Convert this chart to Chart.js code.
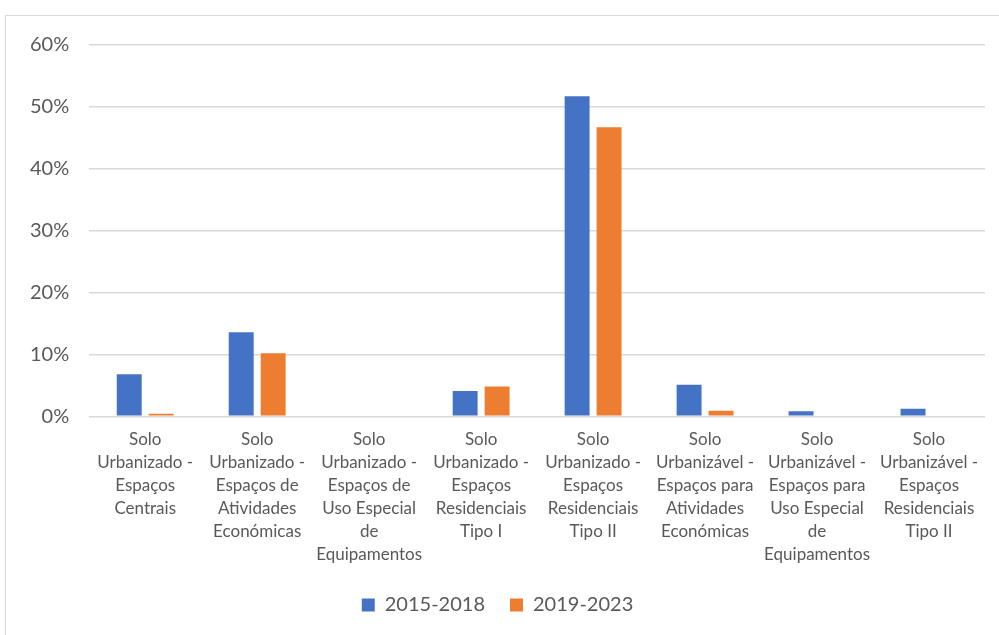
<!DOCTYPE html>
<html lang="pt">
<head>
  <meta charset="UTF-8" />
  <title>Solo - 2015-2018 vs 2019-2023</title>
  <script src="https://cdn.jsdelivr.net/npm/chart.js"></script>
  <style>
    body {
      margin: 0;
      background: #ffffff;
      width: 999px;
      height: 635px;
      overflow: hidden;
      position: relative;
    }
    .frame {
      position: absolute;
      left: 5px;
      top: 15px;
      width: 1100px;
      height: 700px;
      border: 1px solid #d9d9d9;
    }
    .chart-box {
      position: absolute;
      left: 0;
      top: 0;
      width: 999px;
      height: 635px;
    }
  </style>
</head>
<body>
  <div class="frame"></div>
  <div class="chart-box">
    <canvas id="barChart" width="999" height="635"></canvas>
  </div>

  <script>
    const categories = [
      ["Solo", "Urbanizado -", "Espaços", "Centrais"],
      ["Solo", "Urbanizado -", "Espaços de", "Atividades", "Económicas"],
      ["Solo", "Urbanizado -", "Espaços de", "Uso Especial", "de", "Equipamentos"],
      ["Solo", "Urbanizado -", "Espaços", "Residenciais", "Tipo I"],
      ["Solo", "Urbanizado -", "Espaços", "Residenciais", "Tipo II"],
      ["Solo", "Urbanizável -", "Espaços para", "Atividades", "Económicas"],
      ["Solo", "Urbanizável -", "Espaços para", "Uso Especial", "de", "Equipamentos"],
      ["Solo", "Urbanizável -", "Espaços", "Residenciais", "Tipo II"]
    ];
    const seriesNames = ["2015-2018", "2019-2023"];
    const values2015 = [6.8, 13.6, 0, 4.1, 51.7, 5.1, 0.8, 1.2];
    const values2019 = [0.4, 10.2, 0, 4.8, 46.7, 0.9, 0, 0];
    const yTicks = [0, 10, 20, 30, 40, 50, 60];

    const textColor = '#595959';
    const gridColor = '#d9d9d9';
    const fontFamily = "Lato, 'Open Sans', sans-serif";

    new Chart(document.getElementById('barChart'), {
      type: 'bar',
      data: {
        labels: categories,
        datasets: [
          {
            label: seriesNames[0],
            data: values2015,
            backgroundColor: '#4472c4',
            categoryPercentage: 0.571,
            barPercentage: 0.78
          },
          {
            label: seriesNames[1],
            data: values2019,
            backgroundColor: '#ed7d31',
            categoryPercentage: 0.571,
            barPercentage: 0.78
          }
        ]
      },
      options: {
        responsive: false,
        animation: false,
        layout: { padding: { top: 45, right: 14, left: 10, bottom: 10 } },
        plugins: {
          tooltip: { enabled: false },
          legend: {
            position: 'bottom',
            labels: {
              color: textColor,
              font: { family: fontFamily, size: 20 },
              boxWidth: 13,
              boxHeight: 13,
              padding: 25
            }
          }
        },
        scales: {
          x: {
            grid: { display: false },
            border: { display: false },
            ticks: {
              color: textColor,
              font: { family: fontFamily, size: 17, lineHeight: 1.35 },
              maxRotation: 0,
              autoSkip: false,
              padding: 4
            }
          },
          y: {
            min: 0,
            max: 60,
            afterBuildTicks: axis => {
              axis.ticks = yTicks.map(v => ({ value: v }));
            },
            grid: { color: gridColor, lineWidth: 1.5, drawTicks: false },
            border: { display: false },
            ticks: {
              color: textColor,
              font: { family: fontFamily, size: 20 },
              padding: 20,
              callback: v => v + '%'
            }
          }
        }
      }
    });
  </script>
</body>
</html>
